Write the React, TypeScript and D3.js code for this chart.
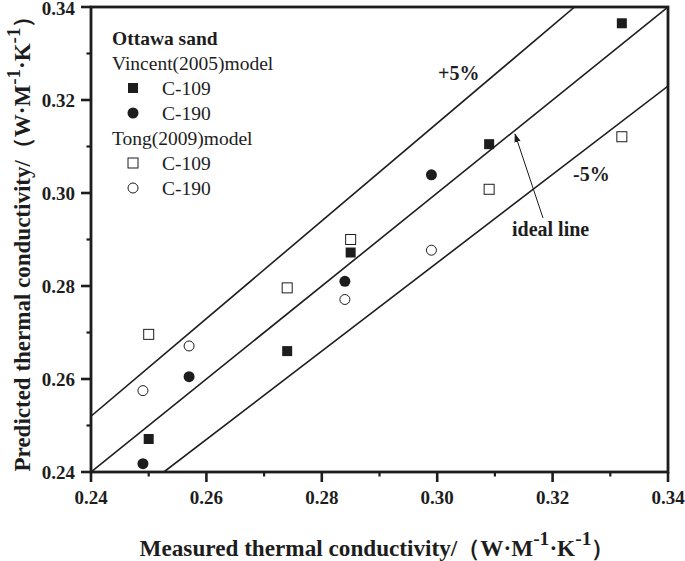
import React from "react";
import * as d3 from "d3";

const xTickValues = [0.24, 0.26, 0.28, 0.3, 0.32, 0.34];
const yTickValues = [0.24, 0.26, 0.28, 0.3, 0.32, 0.34];
const minorTickValues = [0.25, 0.27, 0.29, 0.31, 0.33];

// measured, predicted
const vincentC109X = [0.25, 0.274, 0.285, 0.309, 0.332];
const vincentC109Y = [0.2471, 0.266, 0.2872, 0.3105, 0.3365];
const vincentC190X = [0.249, 0.257, 0.284, 0.299];
const vincentC190Y = [0.2418, 0.2605, 0.281, 0.3039];
const tongC109X = [0.25, 0.274, 0.285, 0.309, 0.332];
const tongC109Y = [0.2696, 0.2796, 0.29, 0.3008, 0.3121];
const tongC190X = [0.249, 0.257, 0.284, 0.299];
const tongC190Y = [0.2575, 0.2671, 0.2771, 0.2877];

const lineFactors = [1.05, 1.0, 0.95];

const W = 685;
const H = 561;
const L = 91, R = 668, T = 7, B = 472;
const INK = "#1d1d1d";
const SERIF = "'Liberation Serif', 'Times New Roman', serif";

export default function App() {
  const x = d3.scaleLinear().domain([0.24, 0.34]).range([L, R]);
  const y = d3.scaleLinear().domain([0.24, 0.34]).range([B, T]);

  const lineSeg = (k: number) => {
    let x0 = 0.24, y0 = k * 0.24;
    if (y0 < 0.24) { x0 = 0.24 / k; y0 = 0.24; }
    let x1 = 0.34, y1 = k * 0.34;
    if (y1 > 0.34) { x1 = 0.34 / k; y1 = 0.34; }
    return d3.line()([[x(x0), y(y0)], [x(x1), y(y1)]]) as string;
  };

  const sq = 10;
  const r = 5.5;

  const square = (cx: number, cy: number, filled: boolean, key: string) => (
    <rect key={key} x={cx - sq / 2} y={cy - sq / 2} width={sq} height={sq}
      fill={filled ? INK : "#fff"} stroke={INK} strokeWidth={filled ? 0 : 1} />
  );
  const circle = (cx: number, cy: number, filled: boolean, key: string) => (
    <circle key={key} cx={cx} cy={cy} r={filled ? r : r - 0.5}
      fill={filled ? INK : "#fff"} stroke={INK} strokeWidth={filled ? 0 : 1} />
  );

  const legX = 112;
  const legMarkX = 133;
  const legTextX = 162;
  const legFont = 19.5;

  return (
    <svg width={W} height={H} style={{ position: "absolute", left: 0, top: 0, background: "#fff" }}
      fontFamily={SERIF}>
      <rect x={0} y={0} width={W} height={H} fill="#fff" />
      <defs>
        <clipPath id="plotClip">
          <rect x={L} y={T} width={R - L} height={B - T} />
        </clipPath>
        <marker id="arrowHead" viewBox="0 0 10 10" refX="9" refY="5" markerWidth="9" markerHeight="9"
          orient="auto" markerUnits="userSpaceOnUse">
          <path d="M0,1.5 L10,5 L0,8.5 z" fill={INK} />
        </marker>
      </defs>
      <g clipPath="url(#plotClip)">
        {lineFactors.map((k) => (
          <path key={k} d={lineSeg(k)} stroke={INK} strokeWidth={1.6} fill="none" />
        ))}
      </g>

      {vincentC109X.map((v, i) => square(x(v), y(vincentC109Y[i]), true, "vs" + i))}
      {vincentC190X.map((v, i) => circle(x(v), y(vincentC190Y[i]), true, "vc" + i))}
      {tongC109X.map((v, i) => square(x(v), y(tongC109Y[i]), false, "ts" + i))}
      {tongC190X.map((v, i) => circle(x(v), y(tongC190Y[i]), false, "tc" + i))}

      <rect x={L} y={T} width={R - L} height={B - T} fill="none" stroke={INK} strokeWidth={2.8} />

      {xTickValues.map((v) => (
        <g key={"xt" + v}>
          <line x1={x(v)} x2={x(v)} y1={B} y2={B + 10} stroke={INK} strokeWidth={2.6} />
          <text x={x(v)} y={504} textAnchor="middle" fontSize={19} fontWeight="bold" fill={INK}>
            {v.toFixed(2)}
          </text>
        </g>
      ))}
      {minorTickValues.map((v) => (
        <line key={"xm" + v} x1={x(v)} x2={x(v)} y1={B} y2={B + 4.5} stroke={INK} strokeWidth={2.2} />
      ))}
      {yTickValues.map((v) => (
        <g key={"yt" + v}>
          <line x1={L} x2={L - 10} y1={y(v)} y2={y(v)} stroke={INK} strokeWidth={2.6} />
          <text x={75} y={Math.max(y(v) + 6.5, 15)} textAnchor="end" fontSize={19} fontWeight="bold" fill={INK}>
            {v.toFixed(2)}
          </text>
        </g>
      ))}
      {minorTickValues.map((v) => (
        <line key={"ym" + v} x1={L} x2={L - 4.5} y1={y(v)} y2={y(v)} stroke={INK} strokeWidth={2.2} />
      ))}

      <text x={377} y={556} textAnchor="middle" fontSize={23.2} fontWeight="bold" fill={INK}>
        <tspan>Measured thermal conductivity/（W·M</tspan>
        <tspan dy={-11} fontSize={19.5}>-1</tspan>
        <tspan dy={11}>·K</tspan>
        <tspan dy={-11} fontSize={19.5}>-1</tspan>
        <tspan dy={11}>）</tspan>
      </text>
      <text transform="translate(30,238) rotate(-90)" textAnchor="middle" fontSize={23} fontWeight="bold" fill={INK}>
        <tspan>Predicted thermal conductivity/（W·M</tspan>
        <tspan dy={-10} fontSize={19}>-1</tspan>
        <tspan dy={10}>·K</tspan>
        <tspan dy={-10} fontSize={19}>-1</tspan>
        <tspan dy={10}>）</tspan>
      </text>

      <text x={438} y={80} fontSize={20} fontWeight="bold" fill={INK}>+5%</text>
      <text x={573} y={181} fontSize={20} fontWeight="bold" fill={INK}>-5%</text>
      <text x={512} y={236} fontSize={20} fontWeight="bold" fill={INK}>ideal line</text>
      <line x1={543} y1={218} x2={515} y2={134} stroke={INK} strokeWidth={1} markerEnd="url(#arrowHead)" />

      <text x={legX} y={45} fontSize={legFont} fontWeight="bold" fill={INK}>Ottawa sand</text>
      <text x={legX} y={70} fontSize={legFont} fill={INK}>Vincent(2005)model</text>
      {square(legMarkX, 88, true, "l1")}
      <text x={legTextX} y={95} fontSize={legFont} fill={INK}>C-109</text>
      {circle(legMarkX, 113, true, "l2")}
      <text x={legTextX} y={120} fontSize={legFont} fill={INK}>C-190</text>
      <text x={legX} y={145} fontSize={legFont} fill={INK}>Tong(2009)model</text>
      {square(legMarkX, 163, false, "l3")}
      <text x={legTextX} y={170} fontSize={legFont} fill={INK}>C-109</text>
      {circle(legMarkX, 188, false, "l4")}
      <text x={legTextX} y={195} fontSize={legFont} fill={INK}>C-190</text>
    </svg>
  );
}
